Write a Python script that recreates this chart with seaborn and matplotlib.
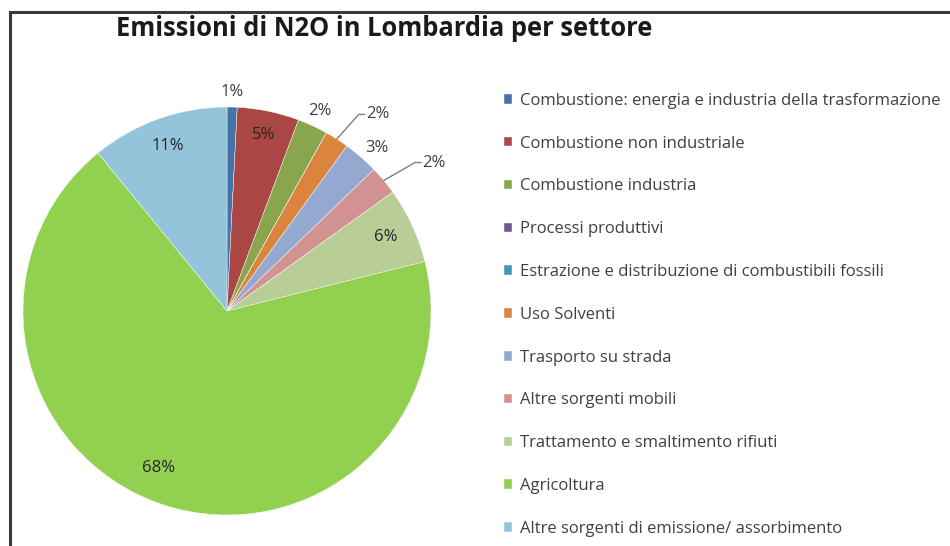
import numpy as np
import matplotlib
matplotlib.use("Agg")
import matplotlib.pyplot as plt
import seaborn as sns
from matplotlib.patches import Rectangle

# data (percent of N2O emissions)
sectors = [
    "Combustione: energia e industria della trasformazione",
    "Combustione non industriale",
    "Combustione industria",
    "Processi produttivi",
    "Estrazione e distribuzione di combustibili fossili",
    "Uso Solventi",
    "Trasporto su strada",
    "Altre sorgenti mobili",
    "Trattamento e smaltimento rifiuti",
    "Agricoltura",
    "Altre sorgenti di emissione/ assorbimento",
]
shares = [0.8, 4.9, 2.4, 0.0, 0.0, 1.9, 2.8, 2.3, 6.0, 68.0, 10.9]
pct_labels = ["1%", "5%", "2%", "", "", "2%", "3%", "2%", "6%", "68%", "11%"]
colors = ["#4572A7", "#AA4643", "#89A54E", "#71588F", "#4198AF", "#DB843D",
          "#93A9CF", "#D19392", "#B9CD96", "#92D050", "#93C4D9"]

sns.set_theme(style="white")
plt.rcParams['font.family'] = ['Open Sans', 'DejaVu Sans']

W, H = 950, 546
fig = plt.figure(figsize=(W / 100, H / 100), dpi=100)
fig.patch.set_facecolor("white")

# outer chart frame (clipped at right/bottom like the screenshot)
fig.add_artist(Rectangle((10 / W, -0.05), 1.2, 1 - 12 / H + 0.05,
                         transform=fig.transFigure, fill=False,
                         edgecolor="#3a3a3a", linewidth=2.2))

fig.text(384 / W, 1 - 29 / H, "Emissioni di N2O in Lombardia per settore",
         ha="center", va="center", fontsize=18.4, fontweight="bold", color="#1a1a1a")

cx, cy, r = 227, 311, 204
ax = fig.add_axes([(cx - r) / W, (H - cy - r) / H, 2 * r / W, 2 * r / H])
wedges, _ = ax.pie(shares, colors=sns.color_palette(colors), startangle=90,
                   counterclock=False, radius=1.0,
                   wedgeprops=dict(linewidth=0.3, edgecolor="white"))
ax.set_xlim(-1, 1)
ax.set_ylim(-1, 1)
ax.set_aspect("equal")
ax.axis("off")

# label radius per slice (inside < 1 < outside), leader lines for two slices
label_r = [1.075, 0.88, 1.08, 0, 0, 1.2, 1.085, 1.23, 0.86, 0.84, 0.86]
label_da = [0, 0, 0, 0, 0, -4, -1.5, -3.5, 0, -5, 0]
leader = [False, False, False, False, False, True, False, True, False, False, False]
for w, lab, lr, da, ld in zip(wedges, pct_labels, label_r, label_da, leader):
    if not lab:
        continue
    mid = np.deg2rad((w.theta1 + w.theta2) / 2)
    ang = mid + np.deg2rad(da)
    tx, ty = lr * np.cos(ang), lr * np.sin(ang)
    if ld:
        x0, y0 = np.cos(mid), np.sin(mid)
        ax.plot([x0, tx - 0.07, tx - 0.04], [y0, ty, ty], color="#7f7f7f",
                lw=1.0, clip_on=False)
        ax.text(tx - 0.035, ty, lab, ha="left", va="center", fontsize=12,
                color="#404040")
    else:
        ax.text(tx, ty, lab, ha="center", va="center", fontsize=12,
                color="#404040" if lr > 1 else "#262626")

leg = fig.legend(wedges, sectors, loc="upper left",
                 bbox_to_anchor=(497 / W, 1 - 86 / H), frameon=False,
                 fontsize=12, handlelength=0.5, handleheight=0.5,
                 handletextpad=0.45, labelspacing=1.61, borderaxespad=0)
for t in leg.get_texts():
    t.set_color("#404040")

fig.savefig("out.png", dpi=100, facecolor="white")
